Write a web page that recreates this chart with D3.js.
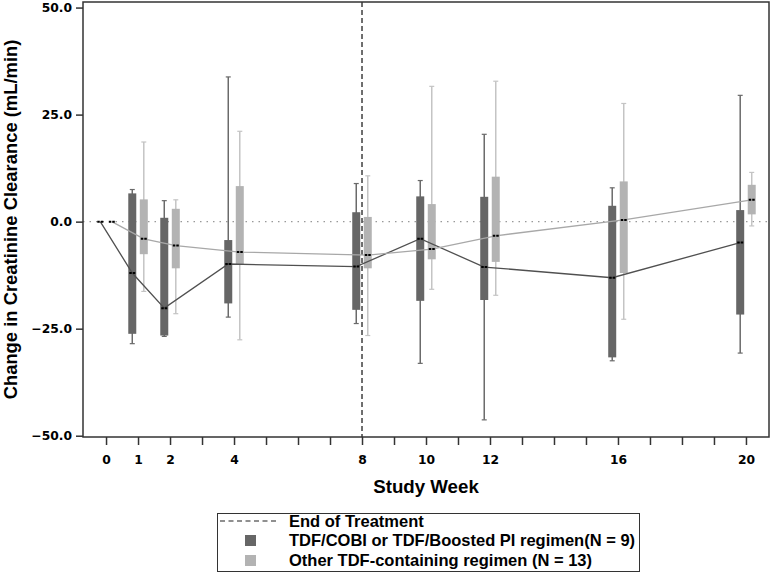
<!DOCTYPE html>
<html><head><meta charset="utf-8">
<script src="https://cdn.jsdelivr.net/npm/d3@7"></script>
<style>body{margin:0;background:#fff}svg{display:block}</style>
</head><body><svg id="c" width="771" height="573"></svg>
<script>
const weeks = [0,1,2,4,8,10,12,16,20];
const tickWeeks = [0,1,2,4,8,10,12,16,20];
const yTicks = [-50,-25,0,25,50];
const endOfTreatmentWeek = 8;
// Group A: TDF/COBI or TDF/Boosted PI regimen (N = 9)
const aMin = [0,-28.5,-26.8,-22.3,-23.8,-33.1,-46.3,-32.5,-30.7];
const aQ1  = [0,-26.2,-26.6,-19.1,-20.6,-18.5,-18.3,-31.7,-21.7];
const aMed = [0,-12.0,-20.2, -9.9,-10.5, -4.0,-10.6,-13.1, -4.9];
const aQ3  = [0,  6.6,  0.9, -4.3,  2.2,  5.9,  5.8,  3.7,  2.7];
const aMax = [0,  7.5,  4.9, 33.8,  8.9,  9.6, 20.4,  7.9, 29.5];
// Group B: Other TDF-containing regimen (N = 13)
const bMin = [0,-16.3,-21.5,-27.6,-26.6,-15.8,-17.2,-22.8,-1.0];
const bQ1  = [0, -7.6,-10.9,-10.1,-10.9, -8.8, -9.4,-12.0, 1.7];
const bMed = [0, -4.0, -5.6, -7.1, -7.8, -6.4, -3.3,  0.4, 5.1];
const bQ3  = [0,  5.2,  3.0,  8.3,  1.1,  4.1, 10.5,  9.4, 8.6];
const bMax = [0, 18.6,  5.1, 21.1, 10.7, 31.6, 32.8, 27.6,11.5];
const legendLabels = ["End of Treatment","TDF/COBI or TDF/Boosted PI regimen(N = 9)","Other TDF-containing regimen (N = 13)"];

const svg = d3.select("#c");
const L=83, R=769, T=2, B=437;
const x = d3.scaleLinear().domain([-0.72,20.72]).range([L,R]);
const y = d3.scaleLinear().domain([-50.3,51.3]).range([B,T]);
const off = 0.18, bw = 8;

const groups = [
  {min:aMin,q1:aQ1,med:aMed,q3:aQ3,max:aMax,d:-off,box:"#666666",wh:"#6a6a6a",line:"#505050"},
  {min:bMin,q1:bQ1,med:bMed,q3:bQ3,max:bMax,d:off,box:"#b3b3b3",wh:"#c4c4c4",line:"#a8a8a8"}
];

svg.append("line").attr("x1",L).attr("x2",R).attr("y1",y(0)).attr("y2",y(0))
  .attr("stroke","#999").attr("stroke-width",1.2).attr("stroke-dasharray","1.5,5");
svg.append("line").attr("x1",x(endOfTreatmentWeek)).attr("x2",x(endOfTreatmentWeek)).attr("y1",T).attr("y2",B)
  .attr("stroke","#222").attr("stroke-width",1.3).attr("stroke-dasharray","5,3");

groups.forEach(g=>{
  const G = svg.append("g");
  weeks.forEach((w,i)=>{
    const cx = x(w+g.d);
    if (g.max[i]!==g.min[i]) {
      G.append("line").attr("x1",cx).attr("x2",cx).attr("y1",y(g.max[i])).attr("y2",y(g.min[i]))
        .attr("stroke",g.wh).attr("stroke-width",1.5);
      [g.max[i],g.min[i]].forEach(v=>G.append("line").attr("x1",cx-2.5).attr("x2",cx+2.5)
        .attr("y1",y(v)).attr("y2",y(v)).attr("stroke",g.wh).attr("stroke-width",1.2));
      G.append("rect").attr("x",cx-bw/2).attr("width",bw).attr("y",y(g.q3[i]))
        .attr("height",y(g.q1[i])-y(g.q3[i])).attr("fill",g.box);
    }
  });
});
groups.forEach(g=>{
  const line = d3.line().x((w,i)=>x(w+g.d)).y((w,i)=>y(g.med[i]));
  svg.append("path").datum(weeks).attr("d",line).attr("fill","none").attr("stroke",g.line).attr("stroke-width",1.3);
  weeks.forEach((w,i)=>{
    const cx=x(w+g.d);
    svg.append("line").attr("x1",cx-bw/2+1).attr("x2",cx+bw/2-1).attr("y1",y(g.med[i])).attr("y2",y(g.med[i]))
      .attr("stroke","#000").attr("stroke-width",2).attr("stroke-dasharray","2.5,1");
  });
});

svg.append("rect").attr("x",L).attr("y",T).attr("width",R-L).attr("height",B-T)
  .attr("fill","none").attr("stroke","#333").attr("stroke-width",1.5);

const xa = svg.append("g").attr("transform",`translate(0,${B})`)
  .call(d3.axisBottom(x).tickValues(d3.range(0,21)).tickSize(8).tickPadding(10)
    .tickFormat(d=>tickWeeks.includes(d)?d:""));
const ya = svg.append("g").attr("transform",`translate(${L},0)`)
  .call(d3.axisLeft(y).tickValues(yTicks).tickSize(7).tickPadding(4).tickFormat(d3.format(".1f")));
[xa,ya].forEach(a=>{
  a.select(".domain").remove();
  a.selectAll(".tick line").attr("stroke","#333").attr("stroke-width",1.5);
  a.selectAll("text").attr("font-family","DejaVu Sans").attr("font-weight","bold").attr("font-size",12.3).attr("fill","#000");
});

svg.append("text").attr("x",(L+R)/2).attr("y",493).attr("text-anchor","middle")
  .attr("font-family","Liberation Sans, Arial").attr("font-weight","bold").attr("font-size",18.7).text("Study Week");
svg.append("text").attr("transform",`translate(17,${(T+B)/2}) rotate(-90)`).attr("text-anchor","middle")
  .attr("font-family","Liberation Sans, Arial").attr("font-weight","bold").attr("font-size",18.4)
  .text("Change in Creatinine Clearance (mL/min)");

const lg = svg.append("g");
lg.append("rect").attr("x",217.5).attr("y",513.5).attr("width",422).attr("height",58)
  .attr("fill","#fff").attr("stroke","#333").attr("stroke-width",1);
const rows=[521,540.5,560.5];
lg.append("line").attr("x1",220).attr("x2",279).attr("y1",rows[0]).attr("y2",rows[0])
  .attr("stroke","#222").attr("stroke-width",1.2).attr("stroke-dasharray","5,3.5");
lg.append("rect").attr("x",245).attr("y",rows[1]-5.5).attr("width",11).attr("height",11).attr("fill",groups[0].box);
lg.append("rect").attr("x",245).attr("y",rows[2]-5.5).attr("width",11).attr("height",11).attr("fill",groups[1].box);
legendLabels.forEach((t,i)=>lg.append("text").attr("x",289).attr("y",rows[i]+5.8)
  .attr("font-family","Liberation Sans, Arial").attr("font-weight","bold").attr("font-size",16.5).text(t));
</script></body></html>
